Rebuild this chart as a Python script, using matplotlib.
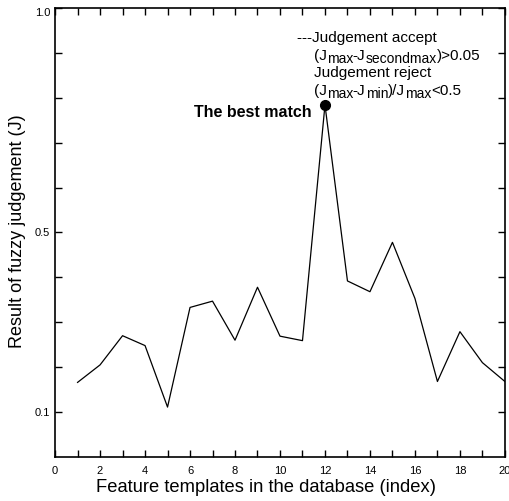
import matplotlib
matplotlib.use("Agg")
import matplotlib.pyplot as plt
from matplotlib.font_manager import FontProperties, findfont, get_font
from matplotlib.transforms import IdentityTransform

plt.rcParams["font.family"] = ["Liberation Sans", "DejaVu Sans"]

# template index and fuzzy judgement result
template_idx = list(range(1, 21))
judgement = [0.166, 0.205, 0.270, 0.248, 0.111, 0.333, 0.347, 0.260, 0.378, 0.269,
             0.259, 0.784, 0.392, 0.368, 0.478, 0.353, 0.168, 0.279, 0.210, 0.168]
best_idx = 12

y_labeled = [0.1, 0.5, 1.0]
y_minor = [0.2, 0.3, 0.4, 0.6, 0.7, 0.8, 0.9]
x_major = list(range(0, 21, 2))
x_minor = list(range(1, 21, 2))

# annotation lines: (text, is_subscript) pieces
notes = [
    [("---Judgement accept", False)],
    [("(J", False), ("max", True), ("-J", False), ("secondmax", True), (")>0.05", False)],
    [("Judgement reject", False)],
    [("(J", False), ("max", True), ("-J", False), ("min", True), (")/J", False),
     ("max", True), ("<0.5", False)],
]
note_x = [10.76, 11.51, 11.51, 11.51]
note_y = [0.924, 0.885, 0.846, 0.806]

DPI = 100


def advance(txt, size):
    # sum of glyph advances in pixels
    font = get_font(findfont(FontProperties(family="Liberation Sans")))
    font.set_size(size, DPI)
    return sum(font.load_char(ord(c)).linearHoriAdvance for c in txt) / 65536.0


def draw_pieces(ax, x, y, pieces, size=11, sub_size=10, sub_drop=3):
    px, py = ax.transData.transform((x, y))
    for txt, sub in pieces:
        fs = sub_size if sub else size
        ax.text(px, py - (sub_drop if sub else 0), txt,
                transform=IdentityTransform(), fontsize=fs,
                va="baseline", ha="left")
        px += advance(txt, fs)


fig = plt.figure(figsize=(5.10, 5.01), dpi=DPI)
ax = fig.add_axes([0.108, 0.088, 0.882, 0.896])

ax.plot(template_idx, judgement, color="black", linewidth=0.9)
ax.plot([best_idx], [judgement[best_idx - 1]], "o", color="black", markersize=7)

ax.set_xlim(0, 20)
ax.set_ylim(0, 1.0)

ax.set_xticks(x_major)
ax.set_xticks(x_minor, minor=True)
ax.set_yticks(y_labeled)
ax.set_yticklabels(["0.1", "0.5", "1.0"])
ax.set_yticks(y_minor, minor=True)
ax.tick_params(which="both", direction="in", top=True, right=True,
               length=5, width=1, labelsize=8)
ax.tick_params(axis="x", pad=6.5)
ax.tick_params(axis="y", pad=3.5)
ax.get_yticklabels()[-1].set_va("top")
for sp in ax.spines.values():
    sp.set_linewidth(1.2)

ax.set_xlabel("Feature templates in the database (index)", fontsize=13.2)
ax.xaxis.set_label_coords(0.47, -0.069)
ax.xaxis.label.set_va("center")
ax.set_ylabel("Result of fuzzy judgement (J)", fontsize=13)
ax.yaxis.set_label_coords(-0.084, 0.503)
ax.yaxis.label.set_va("center")

for i in range(len(notes)):
    draw_pieces(ax, note_x[i], note_y[i], notes[i])
ax.text(11.42, 0.768, "The best match", fontsize=11.5, fontweight="bold",
        va="center", ha="right")

fig.savefig("out.png", dpi=DPI)
